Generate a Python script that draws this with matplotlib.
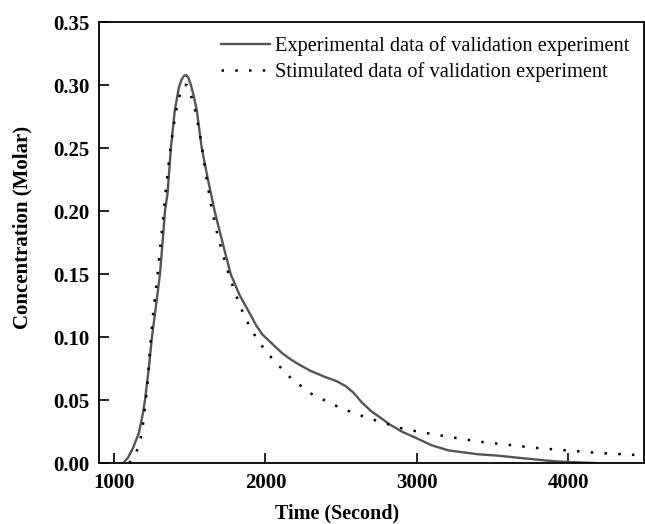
import numpy as np
import matplotlib
matplotlib.use("Agg")
from matplotlib import pyplot as plt

# experimental curve (solid)
t_exp = [1060, 1090, 1125, 1164, 1191, 1204, 1230, 1250, 1280, 1303, 1320, 1336, 1353, 1375,
         1401, 1428, 1445, 1460, 1474, 1490, 1505, 1525, 1546, 1579, 1620, 1664, 1710, 1770,
         1830, 1895, 1940, 1980, 2050, 2112, 2170, 2224, 2300, 2400, 2470, 2530, 2580, 2638,
         2700, 2760, 2816, 2900, 2993, 3100, 3211, 3400, 3540, 3700, 3888, 4000, 4178]
c_exp = [0.0, 0.004, 0.012, 0.024, 0.040, 0.050, 0.076, 0.100, 0.128, 0.150, 0.175, 0.200,
         0.214, 0.250, 0.280, 0.298, 0.304, 0.307, 0.308, 0.306, 0.301, 0.292, 0.280, 0.250,
         0.225, 0.200, 0.178, 0.150, 0.133, 0.119, 0.109, 0.102, 0.094, 0.087, 0.082, 0.078,
         0.073, 0.068, 0.065, 0.061, 0.056, 0.048, 0.041, 0.036, 0.031, 0.025, 0.020, 0.014,
         0.010, 0.007, 0.0058, 0.0038, 0.0016, 0.0008, 0.0]

# simulated curve (dotted)
t_sim = [1100, 1138, 1170, 1190, 1217, 1237, 1257, 1283, 1314, 1340, 1368, 1390, 1410, 1440,
         1462, 1480, 1500, 1530, 1566, 1605, 1638, 1675, 1741, 1796, 1862, 1950, 2050, 2171,
         2303, 2454, 2596, 2750, 2914, 3100, 3408, 3789, 4197, 4500]
c_sim = [0.0, 0.006, 0.016, 0.030, 0.058, 0.090, 0.118, 0.145, 0.182, 0.215, 0.246, 0.265,
         0.280, 0.295, 0.300, 0.300, 0.295, 0.283, 0.262, 0.230, 0.206, 0.185, 0.156, 0.136,
         0.116, 0.097, 0.082, 0.067, 0.055, 0.046, 0.039, 0.033, 0.027, 0.023, 0.017, 0.012,
         0.008, 0.006]

x_ticks = [1000, 2000, 3000, 4000]
y_ticks = [0.00, 0.05, 0.10, 0.15, 0.20, 0.25, 0.30, 0.35]

plt.rcParams['font.family'] = ['Liberation Serif', 'DejaVu Serif']

fig = plt.figure(figsize=(6.45, 5.24), dpi=100)
ax = fig.add_axes([0.1535, 0.1164, 0.8445, 0.8416])

ax.plot(t_exp, c_exp, color='#555555', lw=1.7,
        label='Experimental data of validation experiment')
ax.plot(t_sim, c_sim, color='black', lw=1.8, linestyle=(0, (1, 4.5)),
        label='Stimulated data of validation experiment')

ax.set_xlim(900, 4500)
ax.set_ylim(0, 0.35)
ax.set_xticks(x_ticks)
ax.set_yticks(y_ticks)
ax.set_yticklabels(['%.2f' % v for v in y_ticks])
ax.tick_params(direction='in', length=7, width=1.2, labelsize=15, pad=7)
for lab in ax.get_xticklabels() + ax.get_yticklabels():
    lab.set_fontweight('bold')
for sp in ax.spines.values():
    sp.set_linewidth(1.3)

ax.set_xlabel('Time (Second)', fontsize=14.5, fontweight='bold')
ax.set_ylabel('Concentration (Molar)', fontsize=15, fontweight='bold')
ax.xaxis.set_label_coords(0.437, -0.092)
ax.yaxis.set_label_coords(-0.122, 0.535)

ax.legend(loc='upper right', bbox_to_anchor=(1.0, 1.0), frameon=False, fontsize=14.7,
          handlelength=2.4, handletextpad=0.25, labelspacing=0.3, borderaxespad=0.3)

fig.savefig('out.png', dpi=100)
